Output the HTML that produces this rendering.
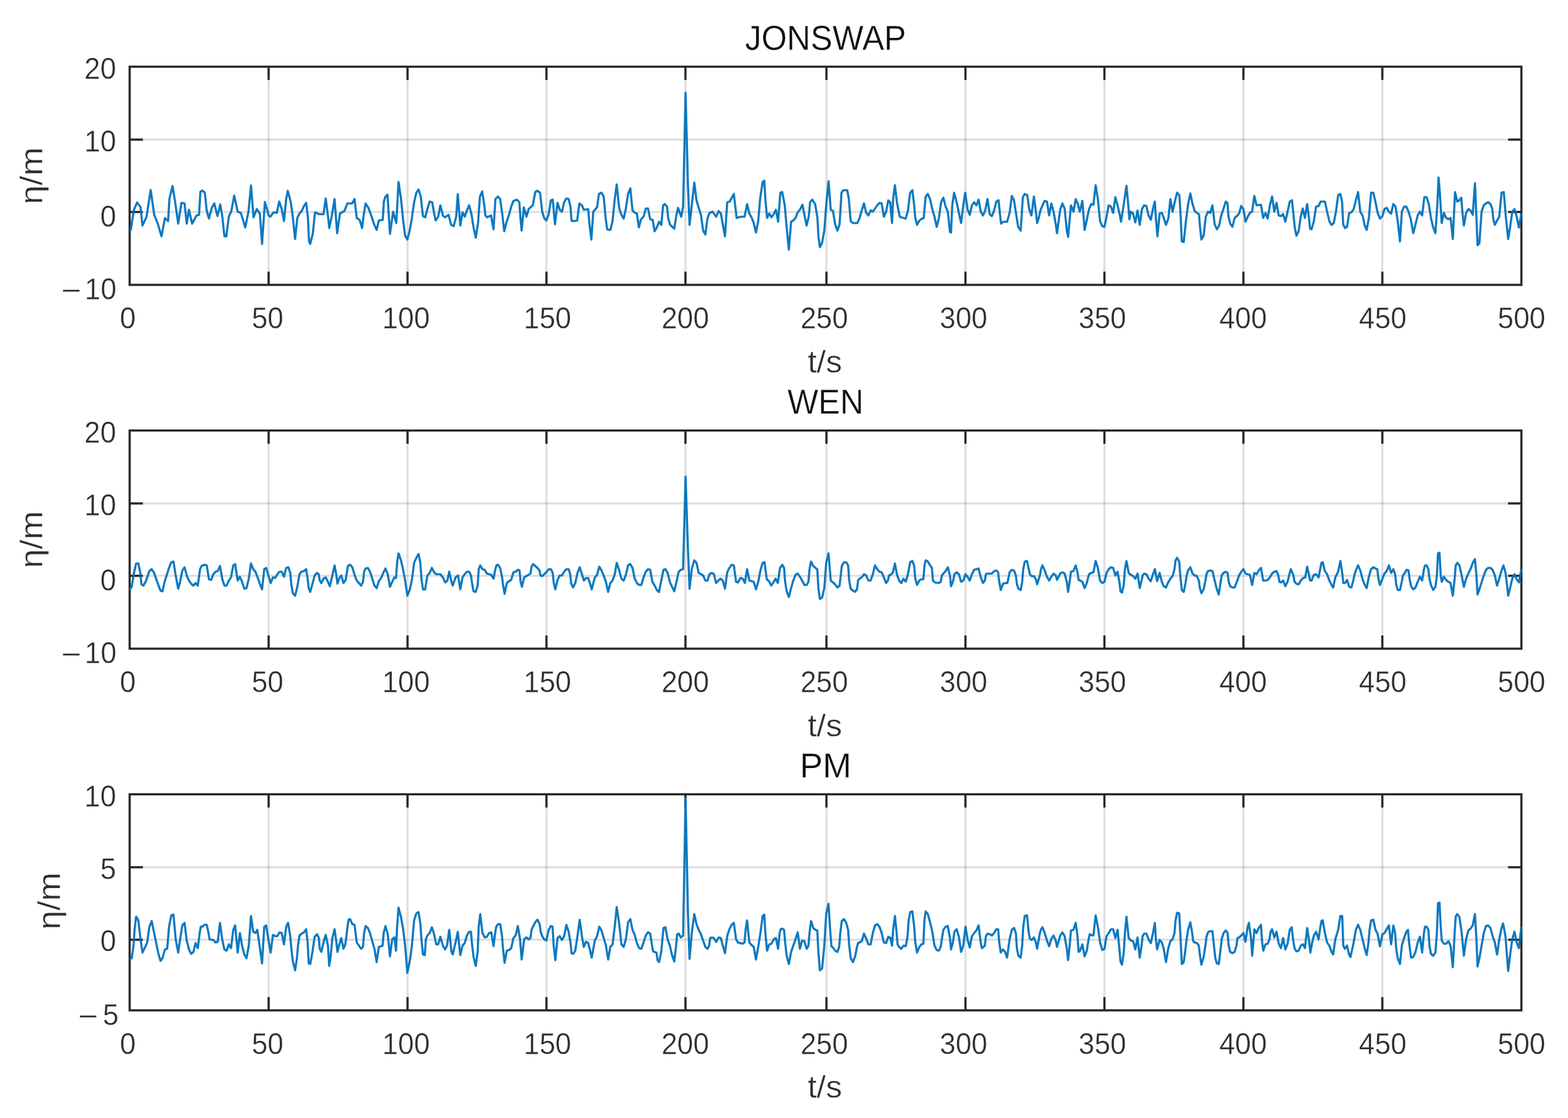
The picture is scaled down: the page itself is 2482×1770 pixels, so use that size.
<!DOCTYPE html>
<html><head><meta charset="utf-8"><title>Wave elevation</title>
<style>
html,body{margin:0;padding:0;background:#fff;}
body{width:2482px;height:1770px;overflow:hidden;}
svg{display:block;}
text{font-family:"Liberation Sans",Arial,Helvetica,sans-serif;}
.tk{font-size:47.6px;fill:#2e2e2e;stroke:#fff;stroke-width:0.4px;}
.tt{font-size:55.0px;fill:#101010;stroke:#fff;stroke-width:0.4px;}
.lb{font-size:50.5px;fill:#2e2e2e;stroke:#fff;stroke-width:0.4px;}
</style></head><body>
<svg xmlns="http://www.w3.org/2000/svg" width="2482" height="1770" viewBox="0 0 2482 1770">
<defs><filter id="db" x="-2%" y="-20%" width="104%" height="140%"><feGaussianBlur stdDeviation="0.6"/></filter></defs>
<rect x="0" y="0" width="2482" height="1770" fill="#fff"/>
<g>
<line x1="425.2" y1="105.6" x2="425.2" y2="451.0" stroke="#262626" stroke-opacity="0.15" stroke-width="3.4"/>
<line x1="645.1" y1="105.6" x2="645.1" y2="451.0" stroke="#262626" stroke-opacity="0.15" stroke-width="3.4"/>
<line x1="865.0" y1="105.6" x2="865.0" y2="451.0" stroke="#262626" stroke-opacity="0.15" stroke-width="3.4"/>
<line x1="1085.0" y1="105.6" x2="1085.0" y2="451.0" stroke="#262626" stroke-opacity="0.15" stroke-width="3.4"/>
<line x1="1308.2" y1="105.6" x2="1308.2" y2="451.0" stroke="#262626" stroke-opacity="0.15" stroke-width="3.4"/>
<line x1="1528.2" y1="105.6" x2="1528.2" y2="451.0" stroke="#262626" stroke-opacity="0.15" stroke-width="3.4"/>
<line x1="1748.2" y1="105.6" x2="1748.2" y2="451.0" stroke="#262626" stroke-opacity="0.15" stroke-width="3.4"/>
<line x1="1968.2" y1="105.6" x2="1968.2" y2="451.0" stroke="#262626" stroke-opacity="0.15" stroke-width="3.4"/>
<line x1="2188.1" y1="105.6" x2="2188.1" y2="451.0" stroke="#262626" stroke-opacity="0.15" stroke-width="3.4"/>
<line x1="205.2" y1="221.0" x2="2408.2" y2="221.0" stroke="#262626" stroke-opacity="0.15" stroke-width="3.4"/>
<line x1="205.2" y1="335.6" x2="2408.2" y2="335.6" stroke="#262626" stroke-opacity="0.15" stroke-width="3.4"/>
<line x1="425.2" y1="105.6" x2="425.2" y2="126.6" stroke="#262626" stroke-width="3.4"/>
<line x1="425.2" y1="451.0" x2="425.2" y2="430.0" stroke="#262626" stroke-width="3.4"/>
<line x1="645.1" y1="105.6" x2="645.1" y2="126.6" stroke="#262626" stroke-width="3.4"/>
<line x1="645.1" y1="451.0" x2="645.1" y2="430.0" stroke="#262626" stroke-width="3.4"/>
<line x1="865.0" y1="105.6" x2="865.0" y2="126.6" stroke="#262626" stroke-width="3.4"/>
<line x1="865.0" y1="451.0" x2="865.0" y2="430.0" stroke="#262626" stroke-width="3.4"/>
<line x1="1085.0" y1="105.6" x2="1085.0" y2="126.6" stroke="#262626" stroke-width="3.4"/>
<line x1="1085.0" y1="451.0" x2="1085.0" y2="430.0" stroke="#262626" stroke-width="3.4"/>
<line x1="1308.2" y1="105.6" x2="1308.2" y2="126.6" stroke="#262626" stroke-width="3.4"/>
<line x1="1308.2" y1="451.0" x2="1308.2" y2="430.0" stroke="#262626" stroke-width="3.4"/>
<line x1="1528.2" y1="105.6" x2="1528.2" y2="126.6" stroke="#262626" stroke-width="3.4"/>
<line x1="1528.2" y1="451.0" x2="1528.2" y2="430.0" stroke="#262626" stroke-width="3.4"/>
<line x1="1748.2" y1="105.6" x2="1748.2" y2="126.6" stroke="#262626" stroke-width="3.4"/>
<line x1="1748.2" y1="451.0" x2="1748.2" y2="430.0" stroke="#262626" stroke-width="3.4"/>
<line x1="1968.2" y1="105.6" x2="1968.2" y2="126.6" stroke="#262626" stroke-width="3.4"/>
<line x1="1968.2" y1="451.0" x2="1968.2" y2="430.0" stroke="#262626" stroke-width="3.4"/>
<line x1="2188.1" y1="105.6" x2="2188.1" y2="126.6" stroke="#262626" stroke-width="3.4"/>
<line x1="2188.1" y1="451.0" x2="2188.1" y2="430.0" stroke="#262626" stroke-width="3.4"/>
<line x1="205.2" y1="221.0" x2="226.2" y2="221.0" stroke="#262626" stroke-width="3.4"/>
<line x1="2408.2" y1="221.0" x2="2387.2" y2="221.0" stroke="#262626" stroke-width="3.4"/>
<line x1="205.2" y1="335.6" x2="226.2" y2="335.6" stroke="#262626" stroke-width="3.4"/>
<line x1="2408.2" y1="335.6" x2="2387.2" y2="335.6" stroke="#262626" stroke-width="3.4"/>
<rect x="205.2" y="105.6" width="2203.0" height="345.4" fill="none" stroke="#262626" stroke-width="3.4"/>
<polyline points="205.2,363.6 207.0,364.1 212.0,332.1 217.0,320.6 222.5,328.1 225.5,357.1 232.0,343.1 238.5,300.6 244.1,340.1 250.1,355.1 255.6,374.2 261.1,345.1 266.1,350.1 268.1,315.1 273.1,294.6 277.1,319.1 282.1,354.1 287.1,321.1 292.1,322.1 295.6,354.1 299.1,332.1 304.1,354.1 311.1,341.1 315.1,340.1 317.2,303.6 320.2,301.6 324.2,305.1 327.2,333.1 330.7,346.1 335.2,329.1 339.2,322.1 344.2,342.1 348.7,323.6 352.2,345.1 355.2,373.7 358.2,374.2 362.2,343.1 366.2,334.1 370.7,309.6 376.2,335.1 381.2,337.1 385.2,350.1 388.2,360.1 393.3,335.1 397.3,293.6 401.3,344.1 406.3,331.1 411.3,338.1 414.8,386.2 419.3,319.6 425.3,341.1 428.0,343.1 433.0,336.1 438.0,337.1 442.0,319.1 446.0,331.1 449.5,350.1 453.0,315.1 455.5,302.1 460.1,319.1 463.1,340.1 467.1,378.2 470.6,345.1 474.1,338.1 478.1,333.1 481.1,326.1 484.6,321.1 487.5,345.1 489.2,382.2 491.1,386.2 495.1,370.2 498.6,336.1 505.1,339.1 512.1,339.1 515.6,314.1 519.5,345.1 521.2,361.1 525.1,342.1 529.6,315.1 533.6,369.2 538.2,338.1 545.2,334.1 549.7,322.1 557.2,322.1 561.2,315.1 564.7,345.1 569.2,348.1 573.2,361.1 575.7,340.1 578.7,322.1 583.2,329.1 587.2,340.1 592.2,355.1 596.2,364.1 599.7,349.1 605.9,348.1 607.6,319.1 610.2,311.1 613.3,308.1 617.3,370.2 622.3,335.1 627.3,353.1 630.8,288.0 634.8,315.1 638.3,350.1 641.3,373.2 644.8,379.2 648.5,365.1 652.0,345.1 655.5,320.1 659.0,305.1 662.5,300.1 666.0,311.1 669.5,342.1 673.0,344.1 676.5,331.1 680.1,319.1 684.1,320.1 687.1,337.1 689.6,349.1 693.6,343.1 697.1,325.1 701.1,341.1 704.1,344.1 710.1,340.1 714.1,356.1 718.1,358.1 722.1,343.1 724.6,307.1 728.6,357.1 732.1,336.1 735.6,343.1 739.1,333.1 742.6,325.1 746.1,338.1 749.6,360.1 753.1,376.2 756.7,353.1 759.7,311.1 763.2,303.1 766.6,325.1 768.3,341.1 771.2,344.1 777.2,341.1 781.2,363.1 784.2,315.1 788.2,311.1 791.7,315.1 795.2,340.1 798.2,366.1 802.2,350.1 805.7,340.1 809.2,327.1 812.7,318.1 818.2,316.1 822.1,320.1 823.8,345.1 825.7,365.1 829.2,328.1 833.3,343.1 836.8,331.1 843.3,325.1 847.3,304.1 850.8,302.1 854.8,305.1 858.3,335.1 861.3,345.1 864.8,349.1 868.5,339.1 872.0,317.1 875.0,316.1 878.5,355.1 882.5,321.1 886.0,332.1 889.5,335.1 893.0,320.1 896.5,314.1 900.1,315.1 903.0,327.1 904.7,349.1 907.1,350.1 913.6,349.1 917.1,322.1 921.1,325.1 924.1,332.1 931.1,331.1 933.1,355.1 936.1,379.2 939.1,335.1 945.1,328.1 948.1,307.1 952.1,305.1 955.6,311.1 958.6,345.1 961.1,363.1 966.1,364.1 969.6,350.1 973.1,315.1 976.2,292.0 980.2,330.1 983.7,340.1 987.2,346.1 990.7,330.1 994.2,307.1 997.7,298.1 1001.2,333.1 1005.2,337.1 1008.2,338.1 1011.2,360.1 1014.7,347.1 1018.7,343.1 1022.2,330.1 1025.7,330.1 1029.2,347.1 1033.2,348.1 1036.2,366.1 1039.7,360.1 1043.2,351.1 1046.7,356.1 1049.7,325.1 1052.3,323.1 1055.9,327.1 1057.6,345.1 1060.8,356.1 1067.3,362.1 1070.8,340.1 1073.3,329.1 1078.3,343.1 1081.3,327.1 1085.2,147.0 1089.0,295.1 1091.5,356.1 1095.0,325.1 1099.0,289.0 1102.5,317.1 1106.0,329.1 1109.5,340.1 1113.0,365.1 1116.5,371.2 1120.0,345.1 1123.1,337.1 1128.1,335.1 1133.6,343.1 1137.6,334.1 1141.1,338.1 1144.1,355.1 1147.6,374.2 1151.1,320.1 1155.1,319.1 1161.6,307.1 1164.3,330.1 1166.0,345.1 1172.1,343.1 1178.6,343.1 1182.6,323.1 1186.1,338.1 1189.6,344.1 1193.1,353.1 1196.6,368.1 1200.2,350.1 1203.2,315.1 1207.2,288.0 1209.8,286.0 1211.5,315.1 1214.2,345.1 1217.7,338.1 1221.2,344.1 1224.7,339.1 1228.2,332.1 1231.7,351.1 1235.2,305.1 1238.2,304.1 1242.2,325.1 1245.2,360.1 1248.7,395.2 1252.2,351.1 1255.7,349.1 1259.2,345.1 1262.7,336.1 1266.2,332.1 1270.2,324.1 1273.3,340.1 1276.8,357.1 1280.3,342.1 1282.3,320.1 1285.8,316.1 1290.3,323.1 1293.9,345.1 1295.6,375.2 1297.8,391.2 1301.3,384.2 1304.8,365.1 1307.8,325.1 1311.5,287.0 1315.0,332.1 1318.5,334.1 1322.0,355.1 1325.5,365.1 1329.0,355.1 1332.0,305.1 1335.0,301.1 1341.1,301.1 1343.6,315.1 1346.6,350.1 1350.1,353.1 1357.1,353.1 1360.6,345.1 1364.1,333.1 1367.6,322.1 1371.1,337.1 1374.6,341.1 1378.1,333.1 1381.6,335.1 1385.1,330.1 1388.6,325.1 1392.1,321.1 1395.6,322.1 1399.1,343.1 1402.6,335.1 1406.1,317.1 1409.1,320.1 1412.0,353.1 1413.7,315.1 1416.6,293.1 1419.7,320.1 1422.6,335.1 1424.3,343.1 1427.2,344.1 1433.7,346.1 1437.2,333.1 1440.7,305.1 1444.2,301.1 1447.1,325.1 1448.8,345.1 1451.7,356.1 1454.7,350.1 1458.2,346.6 1462.2,345.1 1465.2,311.1 1468.7,307.1 1472.2,315.1 1475.7,331.1 1479.2,343.1 1482.7,359.1 1486.2,345.1 1489.7,320.1 1493.3,313.1 1496.8,327.1 1500.3,335.1 1503.7,367.1 1505.4,368.1 1507.3,325.1 1510.3,305.1 1514.3,320.1 1517.8,337.1 1521.3,353.1 1524.8,325.1 1527.8,305.1 1531.5,331.1 1535.0,340.1 1538.5,325.1 1542.0,320.1 1545.5,325.1 1549.0,316.1 1552.5,335.1 1556.0,341.1 1559.5,333.1 1563.1,315.1 1566.6,339.1 1570.1,342.1 1573.6,333.1 1577.1,319.1 1580.6,317.1 1583.0,340.1 1584.7,354.1 1588.1,351.1 1594.1,351.1 1598.1,337.1 1601.6,310.1 1605.1,317.1 1608.6,340.1 1611.6,359.1 1615.6,365.1 1619.1,312.1 1622.1,307.1 1626.1,309.1 1629.1,331.1 1632.6,341.1 1636.6,311.1 1639.7,335.1 1641.7,353.1 1643.7,347.1 1647.2,332.1 1650.2,325.1 1653.7,318.1 1657.2,319.1 1660.7,341.1 1664.2,322.1 1667.7,335.1 1671.2,355.1 1673.2,369.2 1678.2,332.1 1681.7,322.1 1685.2,330.1 1688.7,365.1 1690.7,375.2 1695.2,325.1 1699.2,335.1 1702.7,315.1 1706.2,323.1 1709.2,335.1 1713.3,318.1 1716.8,364.1 1720.3,348.1 1723.8,331.1 1727.3,323.1 1730.8,324.1 1734.3,293.1 1737.8,315.1 1741.3,350.1 1744.8,358.1 1748.3,359.1 1751.5,343.1 1755.0,325.1 1758.5,327.1 1762.0,337.1 1765.5,312.1 1769.0,325.1 1772.5,340.1 1774.5,351.1 1779.5,319.1 1783.1,294.1 1786.0,325.1 1787.7,347.1 1790.1,335.1 1793.6,338.1 1797.1,352.1 1800.6,333.1 1804.1,356.1 1807.6,331.1 1811.1,325.1 1814.6,326.1 1818.1,341.1 1821.6,348.1 1825.1,330.1 1828.0,319.1 1829.7,345.1 1832.1,374.2 1835.6,338.1 1839.1,337.1 1842.1,345.1 1845.6,356.1 1849.6,345.1 1852.6,315.1 1856.1,335.1 1859.7,319.1 1863.2,305.1 1866.8,309.1 1868.5,335.1 1870.7,382.2 1873.7,383.2 1877.2,350.1 1880.7,323.1 1884.2,306.1 1887.7,323.1 1891.2,334.1 1894.7,337.1 1897.9,339.1 1899.6,360.1 1901.7,379.2 1905.2,373.2 1908.7,343.1 1912.2,335.1 1915.7,337.1 1919.2,325.1 1922.7,355.1 1926.2,363.1 1929.7,357.1 1933.3,340.1 1936.8,330.1 1940.3,319.1 1942.9,321.1 1944.6,343.1 1947.3,354.1 1950.8,359.1 1954.3,345.1 1957.8,342.1 1961.3,338.1 1964.8,326.1 1968.3,331.1 1971.5,351.1 1975.0,343.1 1978.5,337.1 1982.0,335.1 1985.5,310.1 1989.0,325.1 1996.0,324.1 1999.5,345.1 2003.1,337.1 2006.6,346.1 2010.1,325.1 2013.6,311.1 2017.1,335.1 2020.6,321.1 2024.1,341.1 2027.6,342.1 2031.1,339.1 2034.6,351.1 2038.1,335.1 2041.6,319.1 2045.1,317.1 2047.8,343.1 2049.5,360.1 2052.1,373.2 2055.6,366.1 2058.6,345.1 2062.1,330.1 2065.6,345.1 2069.1,323.1 2072.0,345.1 2073.7,362.1 2076.1,363.1 2079.7,350.1 2083.2,327.1 2087.2,326.1 2090.7,319.1 2097.2,319.1 2100.7,335.1 2104.2,350.1 2107.7,356.1 2111.2,353.1 2114.7,335.1 2118.2,309.1 2121.7,307.1 2124.4,319.1 2126.1,355.1 2129.2,361.1 2132.2,359.1 2135.7,337.1 2139.2,336.1 2142.7,331.1 2146.2,317.1 2149.7,304.1 2153.2,335.1 2156.8,341.1 2160.3,357.1 2163.3,364.1 2166.8,345.1 2170.3,305.1 2173.8,305.1 2177.3,320.1 2180.8,337.1 2184.3,346.1 2188.3,342.1 2191.5,331.1 2195.0,329.1 2198.5,335.1 2202.0,338.1 2205.5,323.1 2209.0,327.1 2212.5,350.1 2216.0,382.2 2219.0,335.1 2222.6,327.1 2226.1,327.1 2229.6,335.1 2233.1,347.1 2237.1,369.2 2240.6,355.1 2244.1,341.1 2247.6,335.1 2251.1,341.1 2254.6,312.1 2258.1,312.1 2261.6,323.1 2265.1,345.1 2268.6,360.1 2272.1,369.2 2275.1,325.1 2277.1,281.0 2279.1,305.1 2282.1,353.1 2285.6,337.1 2289.1,345.1 2292.6,347.1 2296.1,345.1 2299.7,378.2 2303.2,304.1 2306.7,319.1 2310.2,317.1 2313.1,313.1 2314.8,335.1 2317.2,357.1 2320.7,337.1 2324.2,331.1 2327.7,333.1 2331.2,340.1 2334.7,290.0 2337.1,345.1 2338.8,388.2 2341.7,385.2 2345.2,335.1 2348.7,325.1 2352.2,322.1 2355.7,320.1 2359.2,323.1 2362.1,330.1 2363.8,347.1 2366.2,356.1 2369.7,349.1 2373.2,343.1 2376.8,305.1 2380.3,304.1 2383.8,345.1 2387.3,378.2 2390.3,360.1 2393.8,335.1 2397.3,331.1 2400.8,343.1 2404.3,360.1 2408.2,338.1" fill="none" stroke="#0072BD" stroke-width="3.4" stroke-linejoin="round" stroke-linecap="butt" opacity="0.95" filter="url(#db)"/>
<text class="tk" transform="translate(202.2,520.0) scale(0.95,1)" text-anchor="middle">0</text>
<text class="tk" transform="translate(423.6,520.0) scale(0.95,1)" text-anchor="middle">50</text>
<text class="tk" transform="translate(642.6,520.0) scale(0.95,1)" text-anchor="middle">100</text>
<text class="tk" transform="translate(866.5,520.0) scale(0.95,1)" text-anchor="middle">150</text>
<text class="tk" transform="translate(1084.6,520.0) scale(0.95,1)" text-anchor="middle">200</text>
<text class="tk" transform="translate(1304.6,520.0) scale(0.95,1)" text-anchor="middle">250</text>
<text class="tk" transform="translate(1525.3,520.0) scale(0.95,1)" text-anchor="middle">300</text>
<text class="tk" transform="translate(1745.0,520.0) scale(0.95,1)" text-anchor="middle">350</text>
<text class="tk" transform="translate(1967.6,520.0) scale(0.95,1)" text-anchor="middle">400</text>
<text class="tk" transform="translate(2188.7,520.0) scale(0.95,1)" text-anchor="middle">450</text>
<text class="tk" transform="translate(2408.5,520.0) scale(0.95,1)" text-anchor="middle">500</text>
<text class="tk" transform="translate(183.8,125.2) scale(0.95,1)" text-anchor="end">20</text>
<text class="tk" transform="translate(183.8,240.2) scale(0.95,1)" text-anchor="end">10</text>
<text class="tk" transform="translate(183.8,359.3) scale(0.95,1)" text-anchor="end">0</text>
<text class="tk" transform="translate(184.3,474.2) scale(0.95,1)" text-anchor="end">10</text>
<text class="tk" transform="translate(128.9,476.2) scale(1.15,1)" text-anchor="end">−</text>
<text class="tt" transform="translate(1306.7,79.0) scale(0.945,1)" text-anchor="middle">JONSWAP</text>
<text class="lb" transform="translate(1305.7,589.5) scale(1.02,1)" text-anchor="middle">t/s</text>
<text class="lb" transform="translate(67.0,278.3) rotate(-90) scale(1.077,1)" text-anchor="middle">η/m</text>
</g>
<g>
<line x1="425.2" y1="681.6" x2="425.2" y2="1027.0" stroke="#262626" stroke-opacity="0.15" stroke-width="3.4"/>
<line x1="645.1" y1="681.6" x2="645.1" y2="1027.0" stroke="#262626" stroke-opacity="0.15" stroke-width="3.4"/>
<line x1="865.0" y1="681.6" x2="865.0" y2="1027.0" stroke="#262626" stroke-opacity="0.15" stroke-width="3.4"/>
<line x1="1085.0" y1="681.6" x2="1085.0" y2="1027.0" stroke="#262626" stroke-opacity="0.15" stroke-width="3.4"/>
<line x1="1308.2" y1="681.6" x2="1308.2" y2="1027.0" stroke="#262626" stroke-opacity="0.15" stroke-width="3.4"/>
<line x1="1528.2" y1="681.6" x2="1528.2" y2="1027.0" stroke="#262626" stroke-opacity="0.15" stroke-width="3.4"/>
<line x1="1748.2" y1="681.6" x2="1748.2" y2="1027.0" stroke="#262626" stroke-opacity="0.15" stroke-width="3.4"/>
<line x1="1968.2" y1="681.6" x2="1968.2" y2="1027.0" stroke="#262626" stroke-opacity="0.15" stroke-width="3.4"/>
<line x1="2188.1" y1="681.6" x2="2188.1" y2="1027.0" stroke="#262626" stroke-opacity="0.15" stroke-width="3.4"/>
<line x1="205.2" y1="797.0" x2="2408.2" y2="797.0" stroke="#262626" stroke-opacity="0.15" stroke-width="3.4"/>
<line x1="205.2" y1="911.6" x2="2408.2" y2="911.6" stroke="#262626" stroke-opacity="0.15" stroke-width="3.4"/>
<line x1="425.2" y1="681.6" x2="425.2" y2="702.6" stroke="#262626" stroke-width="3.4"/>
<line x1="425.2" y1="1027.0" x2="425.2" y2="1006.0" stroke="#262626" stroke-width="3.4"/>
<line x1="645.1" y1="681.6" x2="645.1" y2="702.6" stroke="#262626" stroke-width="3.4"/>
<line x1="645.1" y1="1027.0" x2="645.1" y2="1006.0" stroke="#262626" stroke-width="3.4"/>
<line x1="865.0" y1="681.6" x2="865.0" y2="702.6" stroke="#262626" stroke-width="3.4"/>
<line x1="865.0" y1="1027.0" x2="865.0" y2="1006.0" stroke="#262626" stroke-width="3.4"/>
<line x1="1085.0" y1="681.6" x2="1085.0" y2="702.6" stroke="#262626" stroke-width="3.4"/>
<line x1="1085.0" y1="1027.0" x2="1085.0" y2="1006.0" stroke="#262626" stroke-width="3.4"/>
<line x1="1308.2" y1="681.6" x2="1308.2" y2="702.6" stroke="#262626" stroke-width="3.4"/>
<line x1="1308.2" y1="1027.0" x2="1308.2" y2="1006.0" stroke="#262626" stroke-width="3.4"/>
<line x1="1528.2" y1="681.6" x2="1528.2" y2="702.6" stroke="#262626" stroke-width="3.4"/>
<line x1="1528.2" y1="1027.0" x2="1528.2" y2="1006.0" stroke="#262626" stroke-width="3.4"/>
<line x1="1748.2" y1="681.6" x2="1748.2" y2="702.6" stroke="#262626" stroke-width="3.4"/>
<line x1="1748.2" y1="1027.0" x2="1748.2" y2="1006.0" stroke="#262626" stroke-width="3.4"/>
<line x1="1968.2" y1="681.6" x2="1968.2" y2="702.6" stroke="#262626" stroke-width="3.4"/>
<line x1="1968.2" y1="1027.0" x2="1968.2" y2="1006.0" stroke="#262626" stroke-width="3.4"/>
<line x1="2188.1" y1="681.6" x2="2188.1" y2="702.6" stroke="#262626" stroke-width="3.4"/>
<line x1="2188.1" y1="1027.0" x2="2188.1" y2="1006.0" stroke="#262626" stroke-width="3.4"/>
<line x1="205.2" y1="797.0" x2="226.2" y2="797.0" stroke="#262626" stroke-width="3.4"/>
<line x1="2408.2" y1="797.0" x2="2387.2" y2="797.0" stroke="#262626" stroke-width="3.4"/>
<line x1="205.2" y1="911.6" x2="226.2" y2="911.6" stroke="#262626" stroke-width="3.4"/>
<line x1="2408.2" y1="911.6" x2="2387.2" y2="911.6" stroke="#262626" stroke-width="3.4"/>
<rect x="205.2" y="681.6" width="2203.0" height="345.4" fill="none" stroke="#262626" stroke-width="3.4"/>
<polyline points="205.2,933.1 208.5,929.1 212.0,907.1 215.5,892.1 219.0,892.1 222.2,907.1 223.9,925.1 227.0,927.1 230.5,921.1 234.0,911.1 236.5,904.1 240.1,901.1 243.6,906.1 247.1,916.1 250.6,926.1 254.1,935.1 257.1,936.1 260.6,921.1 264.1,910.1 267.6,899.1 271.1,890.1 274.6,889.1 278.1,911.1 282.1,932.1 285.1,921.1 288.6,903.1 292.1,898.1 295.6,911.1 299.1,919.1 302.6,924.1 306.1,927.1 309.6,923.1 313.1,927.1 316.7,901.1 319.2,896.1 323.7,894.1 327.2,895.1 330.7,917.1 334.2,918.1 337.7,909.1 341.2,905.1 344.7,904.1 348.2,896.1 351.7,916.1 355.2,927.1 358.7,927.1 362.2,919.1 365.7,914.1 369.2,895.1 372.2,893.1 376.2,919.1 379.7,913.1 383.2,921.1 386.7,932.1 390.2,931.1 393.8,916.1 397.3,892.1 400.8,901.1 404.3,905.1 407.8,914.1 411.3,924.1 414.8,933.1 418.3,901.1 421.3,899.1 424.8,911.1 428.5,923.1 432.0,914.1 435.5,915.1 439.0,909.1 442.5,905.1 446.0,905.1 449.5,913.1 453.0,899.1 456.5,898.1 459.5,907.1 461.2,926.1 463.6,939.1 467.1,943.1 470.6,929.1 474.1,909.1 477.1,905.1 481.1,904.1 484.6,901.1 487.0,916.1 488.7,931.1 491.1,937.1 494.6,924.1 498.1,911.1 501.6,907.1 504.5,909.1 506.2,919.1 508.6,923.1 512.1,916.1 515.6,914.1 519.1,921.1 522.1,928.1 526.1,911.1 529.6,895.1 532.5,911.1 534.2,924.1 536.7,916.1 540.2,911.1 543.7,923.1 547.2,918.1 550.7,896.1 554.2,894.1 557.7,898.1 561.2,910.1 564.7,919.1 568.2,923.1 571.7,927.1 574.6,921.1 576.3,905.1 578.7,900.1 582.2,899.1 585.7,905.1 589.2,916.1 592.7,927.1 596.2,931.1 599.7,920.1 603.2,915.1 606.7,907.1 610.2,900.1 613.8,909.1 617.3,929.1 620.8,921.1 624.3,914.1 626.9,915.1 628.6,891.1 630.8,876.1 634.8,887.1 638.3,903.1 641.3,919.1 644.8,943.1 648.5,934.1 652.0,918.1 655.5,891.1 659.0,883.1 662.5,877.1 665.4,891.1 667.1,916.1 669.5,933.1 673.0,933.1 676.5,911.1 680.1,907.1 683.6,899.1 687.1,906.1 690.6,909.1 697.1,909.1 701.1,914.1 704.6,922.1 708.1,919.1 711.1,905.1 714.6,921.1 716.6,927.1 721.1,914.1 725.1,911.1 728.6,933.1 732.1,914.1 735.6,909.1 739.1,905.1 742.6,905.1 745.5,911.1 747.2,923.1 749.6,936.1 753.1,937.1 756.1,927.1 757.8,901.1 760.2,895.1 763.7,901.1 767.2,902.1 770.7,908.1 774.2,909.1 777.7,910.1 781.2,916.1 784.1,901.1 785.8,895.1 788.2,894.1 791.7,899.1 794.6,913.1 796.3,926.1 798.7,940.1 802.2,923.1 805.7,920.1 809.2,918.1 812.7,906.1 816.2,905.1 819.7,902.1 822.4,903.1 824.1,921.1 826.2,929.1 829.7,914.1 833.3,912.1 836.8,910.1 839.7,908.1 841.4,897.1 843.8,893.1 847.3,896.1 850.8,899.1 853.9,903.1 855.6,911.1 858.3,912.1 861.3,909.1 864.8,906.1 868.5,901.1 872.0,901.1 874.9,907.1 876.6,923.1 879.0,933.1 882.5,918.1 886.0,911.1 889.5,911.1 893.0,905.1 896.5,901.1 900.1,901.1 902.5,909.1 904.2,924.1 907.1,930.1 910.6,923.1 914.1,907.1 917.6,898.1 921.1,909.1 924.1,919.1 927.6,915.1 931.1,915.1 934.6,926.1 936.6,933.1 941.6,914.1 945.1,910.1 948.6,897.1 952.1,903.1 955.6,911.1 959.1,921.1 962.6,937.1 966.1,923.1 969.6,919.1 973.1,909.1 976.2,891.1 980.2,903.1 983.7,916.1 987.2,919.1 990.7,910.1 994.2,895.1 997.7,893.1 1001.2,899.1 1004.7,916.1 1008.2,923.1 1011.7,926.1 1015.2,926.1 1018.7,914.1 1022.2,905.1 1025.7,901.1 1029.2,902.1 1032.7,921.1 1036.2,927.1 1039.7,934.1 1043.2,937.1 1046.7,919.1 1050.2,902.1 1053.3,901.1 1056.8,907.1 1060.3,921.1 1063.8,929.1 1067.3,936.1 1070.8,921.1 1074.3,905.1 1077.8,902.1 1081.3,901.1 1085.2,754.5 1089.0,871.1 1091.5,932.1 1095.0,901.1 1099.0,887.1 1102.5,891.1 1106.0,907.1 1109.5,909.1 1113.0,911.1 1116.5,919.1 1120.0,919.1 1123.1,909.1 1126.6,907.1 1130.1,909.1 1133.6,923.1 1137.1,919.1 1140.6,916.1 1144.1,919.1 1147.6,932.1 1151.1,906.1 1154.6,899.1 1158.1,894.1 1161.6,895.1 1165.1,921.1 1168.1,922.1 1172.1,915.1 1175.6,916.1 1179.1,923.1 1182.6,901.1 1186.1,919.1 1189.6,920.1 1193.1,921.1 1196.6,933.1 1200.2,921.1 1203.7,903.1 1207.2,891.1 1210.2,890.1 1213.7,917.1 1217.2,920.1 1220.7,927.1 1224.2,922.1 1227.7,916.1 1231.2,923.1 1234.7,899.1 1238.2,894.1 1241.1,899.1 1242.8,921.1 1245.2,936.1 1248.7,945.2 1252.2,931.1 1255.7,919.1 1259.2,910.1 1262.7,908.1 1266.2,913.1 1269.7,919.1 1273.3,926.1 1276.8,926.1 1279.7,921.1 1281.4,901.1 1283.8,889.1 1287.3,896.1 1290.8,899.1 1293.7,901.1 1295.4,931.1 1297.8,948.2 1301.3,946.2 1304.8,931.1 1307.8,891.1 1311.5,876.1 1315.0,919.1 1318.5,922.1 1322.0,925.1 1325.5,930.1 1329.0,927.1 1332.5,896.1 1336.0,890.1 1339.5,890.1 1342.5,895.1 1344.2,919.1 1346.6,932.1 1350.1,935.1 1353.6,937.1 1356.5,933.1 1358.2,919.1 1360.6,916.1 1364.1,914.1 1367.6,909.1 1371.1,911.1 1374.6,919.1 1378.1,919.1 1381.6,909.1 1385.1,895.1 1388.6,901.1 1392.1,905.1 1395.6,906.1 1399.1,914.1 1402.6,923.1 1405.5,919.1 1407.2,911.1 1409.6,910.1 1413.1,907.1 1416.6,892.1 1419.7,909.1 1423.2,919.1 1426.7,923.1 1430.2,916.1 1433.7,921.1 1437.2,909.1 1440.7,890.1 1444.2,888.1 1447.1,896.1 1448.8,916.1 1451.7,926.1 1455.2,919.1 1458.7,917.1 1461.6,917.1 1463.3,896.1 1465.2,887.1 1468.7,889.1 1472.2,895.1 1475.1,899.1 1476.8,919.1 1479.7,922.1 1486.2,923.1 1489.1,921.1 1490.8,911.1 1493.3,908.1 1496.8,904.1 1500.3,898.1 1503.7,911.1 1505.4,928.1 1508.3,921.1 1510.8,909.1 1514.3,906.1 1517.8,909.1 1521.3,921.1 1524.8,919.1 1528.3,909.1 1531.5,913.1 1535.0,919.1 1538.5,909.1 1542.0,902.1 1545.5,901.1 1549.0,900.1 1552.5,914.1 1556.0,923.1 1558.9,919.1 1560.6,909.1 1563.1,908.1 1566.6,908.1 1570.1,908.1 1573.6,904.1 1577.1,903.1 1580.0,906.1 1581.7,921.1 1584.1,934.1 1587.6,924.1 1591.1,923.1 1594.6,923.1 1598.1,906.1 1601.6,902.1 1605.1,903.1 1608.0,911.1 1609.7,925.1 1612.1,932.1 1615.6,934.1 1618.0,921.1 1619.7,901.1 1622.1,889.1 1625.6,888.1 1628.5,901.1 1630.2,909.1 1633.1,912.1 1636.6,912.1 1639.7,917.1 1641.7,925.1 1646.1,911.1 1647.8,901.1 1650.2,895.1 1653.7,903.1 1657.2,913.1 1660.7,919.1 1664.2,913.1 1667.7,908.1 1671.2,911.1 1673.2,918.1 1678.2,908.1 1681.7,906.1 1685.2,908.1 1688.7,921.1 1690.7,937.1 1693.2,921.1 1695.2,905.1 1699.2,904.1 1702.7,895.1 1705.6,906.1 1707.3,918.1 1709.7,919.1 1713.3,921.1 1716.8,931.1 1720.3,923.1 1723.2,911.1 1724.9,908.1 1727.3,907.1 1730.8,906.1 1734.3,888.1 1737.8,899.1 1741.3,919.1 1744.8,923.1 1748.3,921.1 1751.5,907.1 1755.0,901.1 1758.5,898.1 1762.0,899.1 1765.5,911.1 1769.0,905.1 1771.9,921.1 1773.6,936.1 1776.0,938.1 1778.9,926.1 1780.6,901.1 1783.1,888.1 1786.6,907.1 1790.1,910.1 1793.6,912.1 1797.1,916.1 1800.6,908.1 1804.1,931.1 1807.0,919.1 1808.7,911.1 1811.1,908.1 1814.6,909.1 1818.1,916.1 1821.6,920.1 1825.1,909.1 1828.1,901.1 1831.6,920.1 1835.6,907.1 1839.1,921.1 1842.1,928.1 1845.6,930.1 1849.1,922.1 1852.6,916.1 1856.1,912.1 1859.1,901.1 1860.8,887.1 1863.2,883.1 1866.6,889.1 1868.3,911.1 1870.7,934.1 1873.7,937.1 1876.6,923.1 1878.3,911.1 1880.7,903.1 1884.2,898.1 1887.7,908.1 1891.2,911.1 1894.7,912.1 1897.6,919.1 1899.3,931.1 1901.7,939.1 1905.2,933.1 1908.1,919.1 1909.8,909.1 1912.2,904.1 1915.7,903.1 1919.2,904.1 1922.7,919.1 1926.2,933.1 1929.2,941.1 1932.2,921.1 1933.8,911.1 1936.8,907.1 1940.3,905.1 1943.2,907.1 1944.9,921.1 1947.3,928.1 1950.8,930.1 1954.3,930.1 1957.8,921.1 1961.3,911.1 1964.8,905.1 1968.3,901.1 1971.5,908.1 1975.0,909.1 1978.5,910.1 1982.0,926.1 1985.5,907.1 1989.0,909.1 1992.5,903.1 1996.0,899.1 1999.5,919.1 2003.1,919.1 2006.6,918.1 2010.1,914.1 2013.6,908.1 2017.1,905.1 2020.6,904.1 2023.5,911.1 2025.2,921.1 2027.6,922.1 2031.1,919.1 2034.6,928.1 2038.1,921.1 2041.5,907.1 2043.2,901.1 2047.5,911.1 2049.2,921.1 2052.1,924.1 2055.6,925.1 2059.1,919.1 2062.6,915.1 2066.1,914.1 2069.1,897.1 2072.0,910.1 2073.7,919.1 2076.1,919.1 2079.7,910.1 2083.2,909.1 2087.2,914.1 2090.1,899.1 2091.8,891.1 2093.7,890.1 2097.2,904.1 2100.7,909.1 2104.2,919.1 2107.7,926.1 2110.2,930.1 2113.7,914.1 2118.2,905.1 2121.7,888.1 2124.6,907.1 2126.3,923.1 2129.2,923.1 2132.2,918.1 2135.7,929.1 2139.2,930.1 2142.1,919.1 2143.8,911.1 2146.2,903.1 2149.7,895.1 2153.2,903.1 2156.8,917.1 2160.3,926.1 2163.3,931.1 2166.2,916.1 2167.9,909.1 2170.3,901.1 2173.8,898.1 2177.3,900.1 2180.2,901.1 2181.9,916.1 2184.3,926.1 2188.3,916.1 2191.5,908.1 2195.0,904.1 2198.5,895.1 2202.0,907.1 2205.5,901.1 2208.4,909.1 2210.1,926.1 2212.5,934.1 2216.0,934.1 2218.9,921.1 2220.6,911.1 2223.1,908.1 2226.6,902.1 2229.5,903.1 2231.2,916.1 2233.6,928.1 2237.1,933.1 2240.6,930.1 2244.1,921.1 2247.6,913.1 2251.1,919.1 2254.0,901.1 2255.7,895.1 2258.1,895.1 2261.0,901.1 2262.7,916.1 2265.1,926.1 2268.6,934.1 2272.1,929.1 2274.5,911.1 2276.2,876.1 2278.6,875.1 2280.5,911.1 2282.2,921.1 2285.6,913.1 2289.1,918.1 2292.6,921.1 2296.1,923.1 2299.7,943.1 2302.6,916.1 2304.3,895.1 2306.7,891.1 2310.2,895.1 2313.7,911.1 2317.2,929.1 2320.7,916.1 2324.2,908.1 2327.7,901.1 2331.2,891.1 2334.7,885.1 2337.1,911.1 2338.8,941.1 2341.7,933.1 2345.2,922.1 2348.7,911.1 2352.2,902.1 2355.7,899.1 2359.2,899.1 2362.7,902.1 2366.2,911.1 2369.7,927.1 2373.2,916.1 2376.8,903.1 2379.8,895.1 2383.2,907.1 2384.9,921.1 2387.3,943.1 2390.3,931.1 2393.8,916.1 2397.3,909.1 2400.8,917.1 2404.3,922.1 2408.2,901.1" fill="none" stroke="#0072BD" stroke-width="3.4" stroke-linejoin="round" stroke-linecap="butt" opacity="0.95" filter="url(#db)"/>
<text class="tk" transform="translate(202.2,1096.0) scale(0.95,1)" text-anchor="middle">0</text>
<text class="tk" transform="translate(423.6,1096.0) scale(0.95,1)" text-anchor="middle">50</text>
<text class="tk" transform="translate(642.6,1096.0) scale(0.95,1)" text-anchor="middle">100</text>
<text class="tk" transform="translate(866.5,1096.0) scale(0.95,1)" text-anchor="middle">150</text>
<text class="tk" transform="translate(1084.6,1096.0) scale(0.95,1)" text-anchor="middle">200</text>
<text class="tk" transform="translate(1304.6,1096.0) scale(0.95,1)" text-anchor="middle">250</text>
<text class="tk" transform="translate(1525.3,1096.0) scale(0.95,1)" text-anchor="middle">300</text>
<text class="tk" transform="translate(1745.0,1096.0) scale(0.95,1)" text-anchor="middle">350</text>
<text class="tk" transform="translate(1967.6,1096.0) scale(0.95,1)" text-anchor="middle">400</text>
<text class="tk" transform="translate(2188.7,1096.0) scale(0.95,1)" text-anchor="middle">450</text>
<text class="tk" transform="translate(2408.5,1096.0) scale(0.95,1)" text-anchor="middle">500</text>
<text class="tk" transform="translate(183.8,701.2) scale(0.95,1)" text-anchor="end">20</text>
<text class="tk" transform="translate(183.8,816.2) scale(0.95,1)" text-anchor="end">10</text>
<text class="tk" transform="translate(183.8,935.3) scale(0.95,1)" text-anchor="end">0</text>
<text class="tk" transform="translate(184.3,1050.2) scale(0.95,1)" text-anchor="end">10</text>
<text class="tk" transform="translate(128.9,1052.2) scale(1.15,1)" text-anchor="end">−</text>
<text class="tt" transform="translate(1306.7,655.0) scale(0.94,1)" text-anchor="middle">WEN</text>
<text class="lb" transform="translate(1305.7,1165.5) scale(1.02,1)" text-anchor="middle">t/s</text>
<text class="lb" transform="translate(67.0,854.3) rotate(-90) scale(1.077,1)" text-anchor="middle">η/m</text>
</g>
<g>
<line x1="425.2" y1="1257.5" x2="425.2" y2="1599.6" stroke="#262626" stroke-opacity="0.15" stroke-width="3.4"/>
<line x1="645.1" y1="1257.5" x2="645.1" y2="1599.6" stroke="#262626" stroke-opacity="0.15" stroke-width="3.4"/>
<line x1="865.0" y1="1257.5" x2="865.0" y2="1599.6" stroke="#262626" stroke-opacity="0.15" stroke-width="3.4"/>
<line x1="1085.0" y1="1257.5" x2="1085.0" y2="1599.6" stroke="#262626" stroke-opacity="0.15" stroke-width="3.4"/>
<line x1="1308.2" y1="1257.5" x2="1308.2" y2="1599.6" stroke="#262626" stroke-opacity="0.15" stroke-width="3.4"/>
<line x1="1528.2" y1="1257.5" x2="1528.2" y2="1599.6" stroke="#262626" stroke-opacity="0.15" stroke-width="3.4"/>
<line x1="1748.2" y1="1257.5" x2="1748.2" y2="1599.6" stroke="#262626" stroke-opacity="0.15" stroke-width="3.4"/>
<line x1="1968.2" y1="1257.5" x2="1968.2" y2="1599.6" stroke="#262626" stroke-opacity="0.15" stroke-width="3.4"/>
<line x1="2188.1" y1="1257.5" x2="2188.1" y2="1599.6" stroke="#262626" stroke-opacity="0.15" stroke-width="3.4"/>
<line x1="205.2" y1="1373.0" x2="2408.2" y2="1373.0" stroke="#262626" stroke-opacity="0.15" stroke-width="3.4"/>
<line x1="205.2" y1="1487.8" x2="2408.2" y2="1487.8" stroke="#262626" stroke-opacity="0.15" stroke-width="3.4"/>
<line x1="425.2" y1="1257.5" x2="425.2" y2="1278.5" stroke="#262626" stroke-width="3.4"/>
<line x1="425.2" y1="1599.6" x2="425.2" y2="1578.6" stroke="#262626" stroke-width="3.4"/>
<line x1="645.1" y1="1257.5" x2="645.1" y2="1278.5" stroke="#262626" stroke-width="3.4"/>
<line x1="645.1" y1="1599.6" x2="645.1" y2="1578.6" stroke="#262626" stroke-width="3.4"/>
<line x1="865.0" y1="1257.5" x2="865.0" y2="1278.5" stroke="#262626" stroke-width="3.4"/>
<line x1="865.0" y1="1599.6" x2="865.0" y2="1578.6" stroke="#262626" stroke-width="3.4"/>
<line x1="1085.0" y1="1257.5" x2="1085.0" y2="1278.5" stroke="#262626" stroke-width="3.4"/>
<line x1="1085.0" y1="1599.6" x2="1085.0" y2="1578.6" stroke="#262626" stroke-width="3.4"/>
<line x1="1308.2" y1="1257.5" x2="1308.2" y2="1278.5" stroke="#262626" stroke-width="3.4"/>
<line x1="1308.2" y1="1599.6" x2="1308.2" y2="1578.6" stroke="#262626" stroke-width="3.4"/>
<line x1="1528.2" y1="1257.5" x2="1528.2" y2="1278.5" stroke="#262626" stroke-width="3.4"/>
<line x1="1528.2" y1="1599.6" x2="1528.2" y2="1578.6" stroke="#262626" stroke-width="3.4"/>
<line x1="1748.2" y1="1257.5" x2="1748.2" y2="1278.5" stroke="#262626" stroke-width="3.4"/>
<line x1="1748.2" y1="1599.6" x2="1748.2" y2="1578.6" stroke="#262626" stroke-width="3.4"/>
<line x1="1968.2" y1="1257.5" x2="1968.2" y2="1278.5" stroke="#262626" stroke-width="3.4"/>
<line x1="1968.2" y1="1599.6" x2="1968.2" y2="1578.6" stroke="#262626" stroke-width="3.4"/>
<line x1="2188.1" y1="1257.5" x2="2188.1" y2="1278.5" stroke="#262626" stroke-width="3.4"/>
<line x1="2188.1" y1="1599.6" x2="2188.1" y2="1578.6" stroke="#262626" stroke-width="3.4"/>
<line x1="205.2" y1="1373.0" x2="226.2" y2="1373.0" stroke="#262626" stroke-width="3.4"/>
<line x1="2408.2" y1="1373.0" x2="2387.2" y2="1373.0" stroke="#262626" stroke-width="3.4"/>
<line x1="205.2" y1="1487.8" x2="226.2" y2="1487.8" stroke="#262626" stroke-width="3.4"/>
<line x1="2408.2" y1="1487.8" x2="2387.2" y2="1487.8" stroke="#262626" stroke-width="3.4"/>
<rect x="205.2" y="1257.5" width="2203.0" height="342.1" fill="none" stroke="#262626" stroke-width="3.4"/>
<polyline points="205.2,1519.1 208.5,1517.1 211.4,1497.1 213.1,1471.1 215.5,1451.1 219.0,1457.1 222.5,1487.1 225.5,1508.1 229.5,1500.1 233.0,1492.1 236.5,1467.1 240.1,1458.1 243.6,1475.1 247.1,1492.1 250.6,1509.1 254.1,1521.2 257.1,1517.1 261.1,1503.1 264.6,1502.1 267.6,1467.1 271.1,1449.1 274.6,1448.1 278.1,1487.1 282.1,1508.1 285.1,1487.1 288.6,1465.1 292.1,1461.1 295.6,1489.1 299.1,1503.1 302.6,1510.1 306.1,1507.1 309.6,1493.1 313.1,1501.1 316.1,1477.1 317.8,1467.1 320.2,1467.1 323.7,1464.1 327.2,1464.1 330.1,1477.1 331.8,1487.1 337.7,1488.1 341.2,1492.1 344.7,1491.1 348.2,1461.1 351.7,1487.1 355.2,1503.1 358.7,1505.1 362.2,1495.1 365.7,1501.1 369.2,1472.1 372.2,1465.1 376.2,1508.1 379.7,1477.1 383.2,1497.1 386.7,1511.1 390.2,1517.1 393.8,1497.1 397.3,1450.1 400.8,1475.1 404.3,1477.1 407.3,1472.1 410.8,1497.1 414.8,1525.2 418.3,1467.1 421.3,1465.1 424.8,1487.1 428.5,1508.1 432.0,1480.1 435.5,1482.1 439.0,1482.1 442.5,1476.1 446.0,1477.1 449.5,1495.1 453.0,1467.1 456.0,1461.1 459.5,1482.1 461.2,1502.1 463.6,1522.2 467.1,1536.2 470.0,1517.1 471.7,1497.1 474.1,1481.1 477.6,1478.1 481.1,1476.1 484.6,1471.1 487.0,1492.1 488.7,1525.2 491.1,1526.2 494.6,1507.1 498.1,1483.1 501.6,1479.1 504.5,1484.1 506.2,1502.1 508.6,1507.1 512.1,1492.1 515.6,1480.1 519.1,1497.1 521.1,1529.2 523.1,1517.1 526.1,1485.1 529.6,1471.1 532.5,1492.1 534.2,1507.1 536.7,1497.1 540.2,1485.1 543.7,1502.1 546.6,1495.1 548.3,1482.1 550.1,1467.1 551.8,1456.1 554.2,1455.1 557.7,1463.1 561.2,1464.1 564.7,1492.1 568.2,1497.1 571.7,1502.1 574.6,1499.1 576.3,1477.1 578.7,1466.1 582.2,1469.1 585.7,1477.1 589.2,1490.1 592.7,1502.1 596.2,1523.2 599.7,1499.1 603.2,1498.1 605.6,1497.1 607.3,1477.1 610.2,1466.1 613.8,1479.1 617.3,1514.1 620.8,1487.1 624.3,1484.1 626.9,1505.1 628.6,1467.1 630.8,1437.0 634.8,1452.1 638.3,1472.1 641.3,1497.1 644.8,1540.2 648.5,1522.2 652.0,1497.1 655.5,1457.1 659.0,1446.1 662.5,1444.0 665.4,1462.1 667.1,1487.1 669.5,1511.1 672.4,1512.1 674.1,1487.1 676.5,1481.1 680.1,1477.1 683.6,1468.1 687.1,1479.1 690.6,1495.1 693.6,1495.1 697.1,1483.1 701.1,1497.1 704.6,1503.1 707.6,1497.1 711.1,1472.1 714.6,1507.1 716.6,1511.1 721.1,1492.1 724.6,1475.1 728.6,1512.1 732.1,1497.1 735.6,1493.1 739.1,1481.1 742.6,1475.1 745.5,1475.1 747.2,1495.1 749.6,1515.1 753.1,1529.2 756.1,1507.1 757.8,1467.1 760.2,1447.1 763.7,1477.1 767.2,1484.1 770.7,1483.1 774.2,1477.1 777.7,1476.1 781.2,1498.1 783.8,1477.1 785.5,1467.1 788.2,1463.1 791.7,1463.1 794.6,1482.1 796.3,1502.1 798.7,1524.2 802.2,1505.1 805.7,1504.1 809.2,1501.1 812.7,1485.1 816.2,1481.1 819.7,1466.1 823.2,1487.1 825.7,1519.1 829.7,1487.1 833.3,1484.1 836.8,1487.1 839.7,1485.1 841.4,1472.1 843.8,1467.1 847.3,1460.1 850.8,1456.1 854.2,1463.1 855.9,1475.1 858.3,1482.1 861.3,1487.1 864.8,1489.1 868.5,1472.1 872.0,1466.1 874.7,1467.1 876.4,1497.1 879.0,1520.1 882.5,1485.1 886.0,1482.1 889.5,1488.1 893.0,1482.1 896.5,1464.1 900.1,1475.1 903.0,1492.1 904.7,1509.1 907.1,1510.1 910.6,1505.1 914.1,1482.1 917.6,1456.1 921.1,1482.1 924.1,1499.1 927.6,1491.1 931.1,1493.1 934.6,1507.1 936.6,1516.1 941.6,1489.1 945.1,1482.1 948.6,1467.1 952.1,1473.1 955.6,1485.1 959.1,1497.1 962.6,1519.1 966.1,1499.1 969.6,1495.1 973.1,1467.1 976.2,1436.0 980.2,1463.1 983.7,1495.1 987.2,1499.1 990.7,1487.1 994.2,1460.1 997.7,1455.1 1001.2,1472.1 1004.7,1480.1 1008.2,1493.1 1011.7,1501.1 1015.2,1502.1 1018.7,1492.1 1022.2,1481.1 1025.7,1476.1 1029.2,1478.1 1032.1,1497.1 1033.8,1506.1 1036.2,1507.1 1039.1,1508.1 1040.8,1520.1 1043.2,1523.2 1046.7,1507.1 1050.2,1469.1 1053.3,1468.1 1056.8,1487.1 1060.3,1497.1 1063.8,1512.1 1067.3,1522.2 1070.2,1497.1 1071.9,1479.1 1074.3,1478.1 1077.8,1484.1 1081.3,1481.1 1085.2,1264.0 1089.0,1447.1 1091.5,1518.1 1095.0,1477.1 1099.0,1447.1 1102.5,1463.1 1106.0,1472.1 1109.5,1479.1 1113.0,1489.1 1116.5,1499.1 1120.0,1502.1 1122.5,1497.1 1124.2,1485.1 1126.6,1484.1 1130.1,1485.1 1133.6,1491.1 1137.6,1484.1 1141.1,1485.1 1144.1,1497.1 1147.6,1509.1 1151.1,1482.1 1154.6,1471.1 1158.1,1464.1 1161.6,1461.1 1165.1,1487.1 1168.1,1492.1 1172.1,1493.1 1175.6,1494.1 1178.5,1492.1 1180.2,1472.1 1182.6,1457.1 1186.1,1492.1 1189.6,1496.1 1193.1,1499.1 1196.6,1519.1 1200.2,1499.1 1203.7,1477.1 1207.2,1450.1 1209.8,1448.1 1211.5,1477.1 1214.2,1505.1 1217.7,1495.1 1221.2,1494.1 1224.7,1487.1 1228.2,1485.1 1231.7,1502.1 1234.1,1477.1 1235.8,1471.1 1238.2,1470.1 1241.1,1472.1 1242.8,1492.1 1245.2,1513.1 1248.7,1526.2 1252.2,1507.1 1255.7,1497.1 1259.2,1487.1 1262.7,1476.1 1266.2,1502.1 1269.7,1489.1 1273.3,1490.1 1276.8,1502.1 1279.7,1497.1 1281.4,1477.1 1283.8,1458.1 1287.3,1469.1 1290.8,1472.1 1293.7,1473.1 1295.4,1507.1 1297.8,1536.2 1301.3,1533.2 1304.8,1497.1 1307.8,1447.1 1311.5,1431.0 1314.4,1477.1 1316.1,1498.1 1318.5,1500.1 1322.0,1505.1 1325.5,1507.1 1328.4,1499.1 1330.1,1477.1 1332.5,1458.1 1336.0,1455.1 1339.5,1461.1 1342.5,1472.1 1344.2,1497.1 1346.6,1517.1 1350.1,1523.2 1353.6,1514.1 1356.5,1499.1 1358.2,1493.1 1360.6,1492.1 1364.1,1490.1 1367.6,1478.1 1371.1,1486.1 1374.6,1495.1 1378.1,1495.1 1381.6,1477.1 1385.1,1465.1 1388.6,1463.1 1392.1,1467.1 1395.6,1477.1 1399.1,1492.1 1402.6,1493.1 1406.1,1483.1 1409.6,1485.1 1412.0,1497.1 1413.7,1472.1 1416.6,1450.1 1419.1,1475.1 1420.8,1495.1 1423.2,1499.1 1426.7,1502.1 1430.2,1497.1 1433.7,1498.1 1436.6,1482.1 1438.3,1457.1 1440.7,1444.0 1444.2,1443.0 1447.1,1467.1 1448.8,1492.1 1451.7,1508.1 1455.2,1499.1 1458.7,1495.1 1461.6,1494.1 1463.3,1457.1 1465.2,1443.0 1468.7,1447.1 1472.2,1460.1 1475.7,1475.1 1479.2,1497.1 1482.7,1504.1 1486.2,1505.1 1489.1,1499.1 1490.8,1487.1 1493.3,1472.1 1496.8,1467.1 1500.3,1466.1 1503.7,1485.1 1505.4,1503.1 1508.3,1492.1 1510.8,1475.1 1514.3,1471.1 1517.8,1483.1 1521.3,1507.1 1524.8,1497.1 1528.3,1467.1 1531.5,1487.1 1535.0,1500.1 1538.5,1482.1 1542.0,1477.1 1545.5,1473.1 1549.0,1465.1 1552.4,1492.1 1554.1,1501.1 1558.9,1497.1 1560.6,1482.1 1563.1,1478.1 1566.6,1479.1 1570.1,1481.1 1573.6,1477.1 1577.1,1471.1 1580.0,1471.1 1581.7,1492.1 1584.1,1508.1 1587.6,1503.1 1591.1,1507.1 1594.1,1516.1 1598.1,1487.1 1601.6,1472.1 1605.1,1469.1 1608.0,1477.1 1609.7,1502.1 1612.1,1513.1 1615.6,1516.1 1618.0,1497.1 1619.7,1467.1 1622.1,1450.1 1625.6,1449.1 1628.5,1477.1 1630.2,1486.1 1633.1,1488.1 1636.6,1484.1 1639.7,1492.1 1641.7,1502.1 1646.1,1477.1 1647.8,1471.1 1650.2,1468.1 1653.7,1477.1 1657.2,1489.1 1660.7,1498.1 1664.2,1486.1 1667.7,1481.1 1671.2,1489.1 1673.2,1499.1 1678.2,1481.1 1681.7,1476.1 1685.2,1482.1 1688.7,1502.1 1690.7,1520.1 1693.2,1497.1 1695.2,1473.1 1699.2,1472.1 1702.7,1461.1 1705.6,1482.1 1707.3,1507.1 1709.7,1505.1 1713.3,1495.1 1716.8,1514.1 1720.3,1505.1 1723.2,1487.1 1724.9,1479.1 1727.3,1480.1 1730.8,1481.1 1734.3,1449.1 1737.8,1467.1 1741.3,1492.1 1744.8,1504.1 1748.3,1502.1 1751.5,1482.1 1755.0,1477.1 1758.5,1471.1 1762.0,1471.1 1765.5,1485.1 1769.0,1472.1 1771.9,1502.1 1773.6,1522.2 1776.0,1527.2 1778.9,1507.1 1780.6,1477.1 1783.1,1451.1 1786.6,1485.1 1790.1,1489.1 1793.6,1490.1 1797.1,1503.1 1800.6,1484.1 1804.1,1516.1 1807.0,1497.1 1808.7,1482.1 1811.1,1478.1 1814.6,1478.1 1818.1,1487.1 1821.6,1493.1 1825.1,1477.1 1828.0,1461.1 1829.7,1487.1 1831.6,1503.1 1835.6,1488.1 1839.1,1492.1 1842.1,1502.1 1845.6,1523.2 1849.1,1502.1 1852.6,1490.1 1856.1,1487.1 1859.1,1477.1 1860.8,1457.1 1863.2,1445.1 1866.6,1446.1 1868.3,1477.1 1870.7,1526.2 1873.7,1523.2 1876.6,1502.1 1878.3,1487.1 1880.7,1472.1 1884.2,1460.1 1887.1,1477.1 1888.8,1490.1 1891.2,1492.1 1894.7,1493.1 1897.6,1497.1 1899.3,1512.1 1901.7,1527.2 1905.2,1515.1 1908.1,1497.1 1909.8,1483.1 1912.2,1476.1 1915.7,1474.1 1919.2,1474.1 1922.1,1502.1 1923.8,1517.1 1926.2,1525.2 1929.2,1526.2 1932.2,1502.1 1933.8,1487.1 1936.8,1477.1 1940.3,1473.1 1943.2,1477.1 1944.9,1497.1 1947.3,1507.1 1950.8,1509.1 1954.3,1507.1 1957.2,1497.1 1958.9,1485.1 1961.3,1484.1 1964.8,1481.1 1968.3,1477.1 1971.5,1491.1 1975.0,1467.1 1977.0,1461.1 1980.4,1487.1 1982.1,1513.1 1985.5,1471.1 1989.0,1477.1 1992.5,1469.1 1996.0,1464.1 1997.9,1492.1 1999.6,1505.1 2003.1,1495.1 2006.6,1494.1 2009.5,1487.1 2011.2,1475.1 2013.6,1471.1 2017.1,1484.1 2020.6,1475.1 2024.1,1494.1 2027.6,1501.1 2031.1,1485.1 2034.6,1503.1 2038.1,1494.1 2041.6,1472.1 2044.6,1468.1 2047.5,1492.1 2049.2,1501.1 2052.1,1506.1 2055.6,1505.1 2059.1,1497.1 2062.6,1495.1 2065.6,1501.1 2069.1,1469.1 2072.5,1492.1 2074.2,1508.1 2077.1,1492.1 2079.7,1481.1 2083.2,1475.1 2087.2,1487.1 2090.1,1467.1 2091.8,1458.1 2093.7,1457.1 2097.2,1477.1 2100.7,1492.1 2104.2,1497.1 2107.7,1507.1 2110.2,1511.1 2113.7,1487.1 2118.2,1472.1 2121.7,1450.1 2124.6,1450.1 2126.3,1497.1 2128.7,1502.1 2132.2,1497.1 2135.7,1512.1 2137.7,1515.1 2142.7,1492.1 2146.2,1472.1 2149.7,1464.1 2153.2,1472.1 2156.8,1487.1 2160.3,1502.1 2163.3,1512.1 2166.2,1492.1 2167.9,1472.1 2170.3,1457.1 2173.8,1456.1 2177.3,1472.1 2180.8,1479.1 2184.3,1498.1 2188.3,1479.1 2191.5,1477.1 2195.0,1471.1 2198.5,1465.1 2202.0,1495.1 2205.5,1465.1 2208.4,1477.1 2210.1,1502.1 2212.5,1517.1 2216.0,1526.2 2219.0,1497.1 2222.6,1485.1 2226.1,1475.1 2228.7,1472.1 2230.4,1492.1 2233.6,1516.1 2237.1,1515.1 2240.6,1507.1 2244.1,1492.1 2247.6,1483.1 2251.1,1508.1 2254.0,1477.1 2255.7,1467.1 2258.1,1467.1 2261.0,1472.1 2262.7,1497.1 2265.1,1510.1 2268.6,1513.1 2272.1,1508.1 2274.5,1477.1 2276.2,1430.0 2278.6,1429.0 2280.5,1467.1 2282.2,1489.1 2285.6,1494.1 2289.1,1494.1 2292.6,1490.1 2296.1,1497.1 2299.7,1531.2 2302.6,1477.1 2304.3,1451.1 2306.7,1447.1 2310.2,1452.1 2313.7,1477.1 2317.2,1513.1 2320.7,1487.1 2324.2,1473.1 2327.7,1470.1 2331.2,1465.1 2334.7,1447.1 2337.1,1487.1 2338.8,1530.2 2341.7,1517.1 2345.2,1497.1 2348.7,1477.1 2352.2,1466.1 2355.7,1465.1 2359.2,1469.1 2362.7,1482.1 2366.2,1492.1 2369.7,1511.1 2373.2,1487.1 2376.8,1469.1 2379.3,1462.1 2383.2,1483.1 2384.9,1507.1 2387.3,1537.2 2390.3,1512.1 2393.8,1487.1 2397.3,1475.1 2400.8,1492.1 2404.3,1501.1 2408.2,1467.1" fill="none" stroke="#0072BD" stroke-width="3.4" stroke-linejoin="round" stroke-linecap="butt" opacity="0.95" filter="url(#db)"/>
<text class="tk" transform="translate(202.2,1668.6) scale(0.95,1)" text-anchor="middle">0</text>
<text class="tk" transform="translate(423.6,1668.6) scale(0.95,1)" text-anchor="middle">50</text>
<text class="tk" transform="translate(642.6,1668.6) scale(0.95,1)" text-anchor="middle">100</text>
<text class="tk" transform="translate(866.5,1668.6) scale(0.95,1)" text-anchor="middle">150</text>
<text class="tk" transform="translate(1084.6,1668.6) scale(0.95,1)" text-anchor="middle">200</text>
<text class="tk" transform="translate(1304.6,1668.6) scale(0.95,1)" text-anchor="middle">250</text>
<text class="tk" transform="translate(1525.3,1668.6) scale(0.95,1)" text-anchor="middle">300</text>
<text class="tk" transform="translate(1745.0,1668.6) scale(0.95,1)" text-anchor="middle">350</text>
<text class="tk" transform="translate(1967.6,1668.6) scale(0.95,1)" text-anchor="middle">400</text>
<text class="tk" transform="translate(2188.7,1668.6) scale(0.95,1)" text-anchor="middle">450</text>
<text class="tk" transform="translate(2408.5,1668.6) scale(0.95,1)" text-anchor="middle">500</text>
<text class="tk" transform="translate(183.8,1276.8) scale(0.95,1)" text-anchor="end">10</text>
<text class="tk" transform="translate(183.8,1391.5) scale(0.95,1)" text-anchor="end">5</text>
<text class="tk" transform="translate(183.8,1506.3) scale(0.95,1)" text-anchor="end">0</text>
<text class="tk" transform="translate(187.8,1622.8) scale(0.95,1)" text-anchor="end">5</text>
<text class="tk" transform="translate(155.6,1624.8) scale(1.15,1)" text-anchor="end">−</text>
<text class="tt" transform="translate(1306.7,1230.9) scale(0.99,1)" text-anchor="middle">PM</text>
<text class="lb" transform="translate(1305.7,1738.1) scale(1.02,1)" text-anchor="middle">t/s</text>
<text class="lb" transform="translate(95.0,1426.5) rotate(-90) scale(1.077,1)" text-anchor="middle">η/m</text>
</g>
</svg>
</body></html>
